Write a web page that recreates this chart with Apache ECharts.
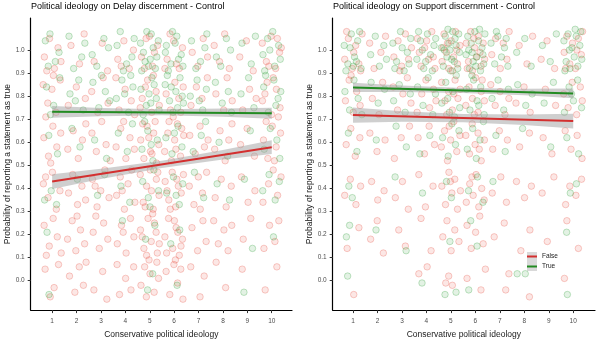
<!DOCTYPE html>
<html><head><meta charset="utf-8">
<script src="https://cdn.jsdelivr.net/npm/echarts@6/dist/echarts.min.js"></script>
<style>html,body{margin:0;padding:0;background:#fff}#c{width:600px;height:344px}</style>
</head><body><div id="c"></div>
<script>
// ---------- tick labels ----------
const xTicks = [1,2,3,4,5,6,7,8,9,10];
const yTicks = [0,0.1,0.2,0.3,0.4,0.5,0.6,0.7,0.8,0.9,1.0];
const titles = ['Political ideology on Delay discernment - Control','Political ideology on Support discernment - Control'];
const xName = 'Conservative political ideology';
const yName = 'Probability of reporting a statement as true';
const groups = ['False','True'];

// ---------- jittered responses: Delay panel ----------
const delayTrue = [
[0.72,1.04],[1.13,0.95],[0.91,1.07],[1.28,0.99],[0.84,0.93],
[1.69,1.06],[2.21,0.97],[1.88,0.92],[2.34,1.03],
[2.64,0.98],[3.12,1.05],[2.83,0.93],[3.31,1.01],
[3.66,1.02],[4.05,0.94],[3.79,1.08],[4.27,0.97],[3.92,0.91],[4.36,1.05],
[4.62,1.03],[4.81,0.95],[5.06,1.07],[5.23,0.92],[4.74,0.99],[5.35,1.04],[4.95,0.93],[5.14,1.01],[4.67,0.91],[5.29,0.97],[4.88,1.08],[5.02,0.96],
[5.68,1.02],[5.87,0.94],[6.11,1.06],[6.29,0.98],[5.76,0.91],[6.04,1.03],[6.36,0.93],[5.93,1.08],[6.18,0.96],[5.64,0.99],
[6.71,1.04],[7.08,0.95],[7.26,1.01],[6.89,0.92],[7.34,1.07],
[7.73,0.97],[8.14,1.05],[7.91,0.93],[8.31,1.00],
[8.78,1.03],[9.16,0.94],[9.33,1.06],
[9.64,0.98],[9.83,1.05],[10.12,0.93],[10.28,1.02],[9.71,0.91],[10.04,1.08],[10.35,0.96],[9.92,1.00],
[0.77,0.84],[1.06,0.76],[1.31,0.88],[0.93,0.72],
[1.73,0.81],[2.09,0.87],[2.27,0.74],[1.95,0.78],
[2.67,0.86],[2.91,0.75],[3.18,0.82],[3.36,0.78],[3.02,0.89],
[3.63,0.79],[3.86,0.87],[4.13,0.73],[4.31,0.84],[3.97,0.81],[4.22,0.89],
[4.64,0.83],[4.86,0.76],[5.09,0.88],[5.27,0.79],[4.73,0.72],[5.18,0.85],[4.97,0.81],[5.38,0.74],[5.04,0.77],
[5.63,0.85],[5.81,0.78],[6.07,0.82],[6.24,0.88],[5.95,0.73],[6.33,0.80],[5.72,0.89],[6.14,0.75],[5.88,0.84],[6.38,0.77],
[6.66,0.80],[6.94,0.87],[7.17,0.74],[7.32,0.83],[7.03,0.78],
[7.69,0.86],[7.97,0.77],[8.22,0.82],[8.35,0.73],
[8.74,0.81],[9.05,0.88],[9.27,0.75],
[9.67,0.84],[9.86,0.73],[10.09,0.87],[10.26,0.79],[9.75,0.89],[10.17,0.76],[10.37,0.82],
[0.86,0.63],[1.22,0.55],[1.81,0.66],[2.14,0.58],[2.74,0.61],[3.23,0.53],
[3.71,0.64],[4.08,0.56],[4.29,0.68],
[4.68,0.57],[4.92,0.65],[5.13,0.52],[5.31,0.61],[4.79,0.69],[5.06,0.59],
[5.66,0.62],[5.91,0.55],[6.16,0.67],[6.32,0.58],[6.01,0.64],
[6.78,0.56],[7.11,0.63],[7.29,0.69],[7.84,0.60],[8.19,0.54],[9.12,0.65],
[9.69,0.57],[9.94,0.66],[10.21,0.61],[10.33,0.53],
[0.69,0.35],[0.96,0.39],[1.18,0.33],[2.03,0.44],[2.86,0.37],[3.15,0.46],
[3.82,0.41],[4.18,0.34],
[4.71,0.43],[4.94,0.36],[5.17,0.48],[5.36,0.39],[5.01,0.32],
[5.69,0.38],[5.97,0.45],[6.21,0.33],[6.35,0.42],[6.08,0.37],
[6.83,0.47],[7.21,0.36],[7.76,0.42],[8.27,0.35],[8.88,0.44],
[9.63,0.39],[9.89,0.46],[10.14,0.35],[10.31,0.43],
[0.79,0.21],[3.88,0.26],[4.83,0.18],[5.21,0.24],[5.86,0.16],[6.23,0.22],[9.21,0.14],[10.07,0.19],
[0.87,-0.06],[4.91,-0.04],[5.12,0.03],[6.12,-0.02],[8.86,-0.05]
];
const delayFalse = [
[0.68,0.97],[0.89,1.05],[1.09,0.92],[1.24,1.01],[1.36,0.95],[0.78,0.91],
[1.77,1.02],[2.12,0.94],[2.31,1.07],
[2.72,0.95],[3.05,1.03],[3.27,0.91],
[3.69,0.96],[3.94,1.04],[4.16,0.92],[4.33,1.00],[3.83,0.93],
[4.66,0.97],[4.85,1.05],[5.11,0.93],[5.32,1.02],[4.78,0.92],[5.19,0.99],[4.99,1.06],
[5.71,0.96],[5.98,1.04],[6.21,0.92],[6.34,1.01],[5.83,1.07],[6.09,0.94],[5.62,0.92],
[6.74,0.99],[6.97,0.93],[7.19,1.05],[7.37,0.97],
[7.64,1.02],[7.86,0.95],[8.07,1.07],[8.26,0.92],
[8.69,0.97],[8.96,1.04],[9.24,0.91],
[9.61,1.03],[9.78,0.95],[9.97,1.06],[10.16,0.92],[10.32,0.99],[9.88,0.93],[10.23,1.05],[10.39,1.01],
[0.63,0.85],[0.82,0.77],[0.99,0.83],[1.16,0.73],[1.33,0.87],[0.74,0.71],[1.05,0.89],
[1.66,0.76],[1.99,0.84],[2.36,0.79],
[2.62,0.82],[2.87,0.73],[3.09,0.88],[3.29,0.77],
[3.74,0.74],[3.99,0.83],[4.24,0.78],[4.38,0.72],[3.61,0.88],
[4.69,0.79],[4.91,0.87],[5.08,0.73],[5.26,0.82],[5.39,0.76],[4.82,0.84],[5.15,0.89],[4.61,0.75],
[5.67,0.81],[5.85,0.74],[6.03,0.86],[6.19,0.79],[6.37,0.84],[5.96,0.71],[6.27,0.73],
[6.69,0.76],[6.91,0.84],[7.14,0.79],[7.36,0.88],
[7.71,0.81],[8.03,0.74],[8.17,0.88],[8.38,0.78],
[8.81,0.74],[9.09,0.83],[9.36,0.79],
[9.62,0.78],[9.81,0.86],[9.99,0.72],[10.19,0.83],[10.34,0.75],[9.72,0.81],[10.06,0.88],[10.27,0.71],
[0.66,0.62],[0.85,0.54],[1.03,0.67],[1.19,0.58],[1.35,0.64],[0.94,0.51],
[1.64,0.57],[1.86,0.65],[2.07,0.53],[2.24,0.61],[2.38,0.68],
[2.63,0.64],[2.81,0.56],[3.03,0.69],[3.21,0.59],[3.38,0.52],
[3.62,0.58],[3.81,0.66],[4.02,0.53],[4.19,0.62],[4.37,0.57],[3.93,0.69],
[4.63,0.61],[4.76,0.53],[4.89,0.67],[5.03,0.56],[5.16,0.64],[5.28,0.51],[5.37,0.59],[4.71,0.68],[4.96,0.62],[5.22,0.69],[5.09,0.55],
[5.61,0.56],[5.74,0.64],[5.89,0.52],[6.02,0.61],[6.13,0.68],[6.26,0.54],[6.39,0.63],[5.79,0.69],[6.07,0.57],[6.31,0.66],
[6.64,0.63],[6.86,0.55],[7.06,0.67],[7.24,0.58],[7.39,0.61],
[7.66,0.57],[7.88,0.65],[8.09,0.52],[8.24,0.61],[8.37,0.68],
[8.72,0.59],[8.99,0.66],[9.29,0.54],
[9.66,0.61],[9.84,0.53],[10.02,0.67],[10.18,0.58],[10.36,0.64],[9.77,0.69],[10.11,0.52],
[0.64,0.42],[0.83,0.36],[1.01,0.47],[1.17,0.31],[1.32,0.39],[0.73,0.45],
[1.67,0.38],[1.84,0.46],[2.04,0.33],[2.22,0.41],[2.37,0.35],
[2.65,0.44],[2.84,0.32],[2.99,0.39],[3.16,0.48],[3.33,0.36],[2.76,0.41],
[3.64,0.37],[3.79,0.45],[3.96,0.31],[4.11,0.42],[4.26,0.48],[4.39,0.34],[3.87,0.39],
[4.61,0.46],[4.73,0.34],[4.87,0.41],[5.02,0.48],[5.14,0.31],[5.27,0.44],[5.38,0.37],[4.81,0.32],[5.07,0.39],[5.33,0.47],
[5.63,0.43],[5.78,0.35],[5.92,0.47],[6.06,0.32],[6.17,0.41],[6.29,0.38],[6.38,0.46],[5.84,0.31],[6.11,0.44],[5.71,0.39],
[6.62,0.41],[6.81,0.33],[6.99,0.45],[7.16,0.38],[7.33,0.47],[7.07,0.31],
[7.68,0.36],[7.93,0.44],[8.13,0.32],[8.34,0.41],
[8.76,0.45],[9.03,0.34],[9.31,0.39],
[9.64,0.34],[9.87,0.42],[10.06,0.48],[10.24,0.37],[10.38,0.45],
[0.67,0.24],[0.88,0.15],[1.04,0.27],[1.21,0.19],[1.37,0.12],[0.76,0.11],
[1.63,0.18],[1.82,0.26],[1.97,0.13],[2.16,0.22],[2.33,0.16],[2.02,0.28],
[2.68,0.21],[2.93,0.14],[3.11,0.25],[3.28,0.18],[2.79,0.28],
[3.67,0.16],[3.84,0.24],[4.03,0.12],[4.21,0.27],[4.35,0.19],[3.91,0.21],
[4.62,0.22],[4.76,0.14],[4.93,0.27],[5.06,0.17],[5.19,0.25],[5.31,0.12],[4.69,0.19],[4.87,0.11],[5.12,0.29],[5.26,0.21],[5.39,0.16],
[5.62,0.19],[5.77,0.27],[5.94,0.14],[6.08,0.23],[6.21,0.11],[6.34,0.18],[5.69,0.12],[6.01,0.26],[6.15,0.21],[6.28,0.15],
[6.73,0.23],[6.96,0.13],[7.18,0.26],[7.31,0.17],
[7.62,0.26],[7.81,0.16],[8.04,0.22],[8.21,0.13],[8.36,0.24],
[8.83,0.18],[9.14,0.27],
[9.68,0.14],[9.91,0.24],[10.13,0.17],[10.29,0.26],
[0.71,0.05],[1.08,-0.03],[1.26,0.07],[0.92,-0.07],
[1.71,0.02],[1.93,-0.05],[2.11,0.06],[2.28,-0.02],[2.39,0.08],
[2.71,-0.04],[3.07,0.04],[3.24,-0.08],
[3.66,0.07],[3.76,-0.06],[4.01,0.01],[4.23,-0.04],[4.34,0.06],
[4.64,-0.02],[4.79,0.06],[4.86,-0.07],[5.01,0.03],[5.18,-0.05],[5.29,0.08],[5.36,0.01],[4.97,0.09],
[5.67,0.04],[5.82,-0.06],[5.99,0.07],[6.14,-0.01],[6.27,0.05],[6.36,-0.08],[6.05,0.09],
[6.68,0.06],[7.06,-0.07],[7.23,0.02],
[7.72,0.08],[8.11,-0.03],[8.79,0.05],
[9.73,-0.04],[10.21,0.06]
];

// ---------- jittered responses: Support panel ----------
const supportTrue = [
[0.64,1.02],[0.79,0.94],[0.93,1.07],[1.06,0.97],[1.19,1.04],[1.33,0.92],[0.71,0.91],[0.88,1.01],[1.14,0.95],[1.27,1.08],[1.01,0.93],
[1.72,0.98],[1.91,1.06],[2.08,0.93],[2.26,1.02],[2.37,0.96],
[2.63,1.03],[2.78,0.95],[2.94,1.08],[3.09,0.91],[3.22,0.99],[3.36,1.05],[2.71,0.92],[3.01,1.01],[3.29,0.94],
[3.61,0.96],[3.76,1.04],[3.89,0.92],[4.04,1.07],[4.17,0.98],[4.31,1.02],[3.68,1.08],[3.97,0.95],[4.24,0.91],[4.38,1.05],[3.83,1.00],
[4.61,1.01],[4.69,0.93],[4.77,1.06],[4.84,0.97],[4.92,1.03],[4.99,0.91],[5.07,1.08],[5.14,0.95],[5.21,1.02],[5.28,0.92],[5.35,0.99],[4.73,1.00],[4.88,1.09],[5.03,0.96],[5.17,1.05],[5.32,1.07],[4.96,1.00],
[5.62,0.98],[5.69,1.06],[5.76,0.92],[5.83,1.03],[5.91,0.95],[5.98,1.08],[6.06,0.97],[6.13,1.04],[6.21,0.91],[6.27,1.01],[6.34,0.94],[6.39,1.07],[5.73,1.00],[5.87,0.99],[6.02,0.93],[6.17,1.09],[6.31,0.98],
[6.64,1.03],[6.79,0.94],[6.92,1.06],[7.07,0.97],[7.19,1.01],[7.33,0.93],[6.86,1.08],[7.26,1.05],
[7.69,0.99],[8.02,1.05],[8.28,0.93],
[8.74,1.02],[9.06,0.95],[9.31,1.07],
[9.62,1.04],[9.71,0.95],[9.79,1.07],[9.87,0.92],[9.95,1.01],[10.04,0.97],[10.12,1.06],[10.19,0.93],[10.27,1.02],[10.35,0.96],[9.66,0.91],[10.08,1.09],[10.31,1.08],[9.84,1.00],
[0.67,0.82],[0.86,0.74],[1.04,0.87],[1.21,0.79],[1.36,0.72],
[1.74,0.86],[2.03,0.77],[2.29,0.83],
[2.66,0.78],[2.89,0.85],[3.13,0.73],[3.34,0.81],
[3.64,0.84],[3.86,0.76],[4.07,0.88],[4.26,0.72],[4.37,0.81],
[4.63,0.77],[4.79,0.86],[4.94,0.73],[5.08,0.82],[5.22,0.89],[5.36,0.75],[4.87,0.79],[5.15,0.71],
[5.64,0.83],[5.78,0.74],[5.93,0.87],[6.07,0.78],[6.22,0.84],[6.36,0.72],[5.86,0.89],[6.14,0.76],
[6.68,0.79],[6.93,0.87],[7.16,0.74],[7.35,0.83],
[7.73,0.85],[8.06,0.76],[8.32,0.81],
[8.81,0.77],[9.19,0.86],
[9.64,0.73],[9.83,0.84],[10.01,0.78],[10.18,0.87],[10.34,0.75],[9.93,0.81],
[0.81,0.64],[1.16,0.56],[1.95,0.61],[2.76,0.67],[3.18,0.58],[3.73,0.55],[4.14,0.63],
[4.66,0.62],[4.89,0.54],[5.04,0.68],[5.19,0.59],[5.33,0.65],
[5.67,0.57],[5.89,0.66],[6.04,0.53],[6.19,0.61],[6.33,0.69],
[6.84,0.63],[7.22,0.56],[7.93,0.66],[9.08,0.58],[9.74,0.62],[10.22,0.55],
[0.83,0.41],[0.97,0.36],[2.72,0.45],[3.84,0.38],[4.82,0.43],[5.02,0.36],[5.72,0.39],[6.09,0.45],[6.31,0.34],[6.72,0.43],[9.88,0.38],[10.13,0.42],
[0.73,0.19],[0.86,0.24],[1.94,0.22],[3.17,0.13],[4.96,0.17],[5.81,0.26],[6.07,0.15],[9.73,0.21],
[0.78,0.02],[3.82,-0.01],[4.76,-0.06],[5.21,-0.05],[5.73,-0.04],[7.71,0.03],[8.04,0.03],[9.76,-0.06]
];
const supportFalse = [
[0.66,0.96],[0.81,1.05],[0.97,0.92],[1.11,1.02],[1.24,0.94],[1.37,1.07],[0.74,1.08],[1.03,0.99],[1.31,0.91],
[1.68,1.03],[1.86,0.92],[2.14,0.99],[2.33,1.06],
[2.67,0.97],[2.84,1.04],[2.99,0.93],[3.14,1.07],[3.27,0.96],[3.39,1.01],[2.91,0.91],
[3.63,1.05],[3.78,0.93],[3.93,1.01],[4.09,0.96],[4.22,1.08],[4.35,0.92],[3.71,0.99],[4.01,1.04],[4.28,0.97],
[4.64,0.95],[4.72,1.07],[4.81,0.99],[4.91,0.92],[5.01,1.04],[5.11,0.97],[5.19,1.08],[5.27,0.94],[5.37,1.02],[4.86,1.03],[5.06,0.91],[5.24,1.00],[4.68,1.01],
[5.63,1.03],[5.72,0.95],[5.81,1.08],[5.88,0.91],[5.97,1.01],[6.04,0.97],[6.12,1.06],[6.23,0.93],[6.32,1.03],[6.38,0.96],[5.94,1.05],[6.19,0.99],[5.67,0.92],
[6.67,0.98],[6.83,1.05],[7.02,0.92],[7.14,1.03],[7.29,0.96],[7.38,1.08],
[7.79,1.02],[8.11,0.94],[8.34,1.06],
[8.69,0.96],[8.93,1.04],[9.24,0.92],
[9.63,0.99],[9.74,1.06],[9.86,0.94],[9.97,1.03],[10.09,0.92],[10.21,1.05],[10.33,0.98],[10.38,1.08],[9.69,0.92],[10.15,1.00],
[0.69,0.78],[0.84,0.87],[1.01,0.73],[1.15,0.82],[1.29,0.76],[0.92,0.89],
[1.79,0.79],[2.06,0.72],[2.21,0.86],
[2.64,0.84],[2.82,0.74],[3.04,0.81],[3.22,0.88],[3.37,0.77],
[3.62,0.73],[3.81,0.81],[3.98,0.87],[4.13,0.75],[4.29,0.83],[4.39,0.78],
[4.62,0.86],[4.76,0.78],[4.91,0.82],[5.06,0.74],[5.17,0.87],[5.29,0.79],[5.38,0.83],[4.83,0.72],[5.12,0.81],
[5.61,0.76],[5.74,0.84],[5.88,0.79],[6.01,0.88],[6.11,0.73],[6.24,0.82],[6.37,0.78],[5.96,0.72],[6.28,0.87],
[6.63,0.85],[6.81,0.76],[7.01,0.82],[7.21,0.72],[7.37,0.79],
[7.66,0.77],[7.99,0.84],[8.24,0.73],
[8.86,0.83],[9.28,0.76],
[9.61,0.81],[9.79,0.75],[9.96,0.86],[10.14,0.72],[10.29,0.84],[10.37,0.78],
[0.72,0.59],[0.91,0.66],[1.09,0.54],[1.28,0.62],
[1.69,0.64],[1.98,0.56],[2.31,0.61],
[2.69,0.53],[2.97,0.62],[3.31,0.67],
[3.66,0.62],[3.92,0.55],[4.11,0.67],[4.33,0.59],
[4.61,0.58],[4.74,0.65],[4.86,0.52],[4.99,0.61],[5.12,0.69],[5.24,0.56],[5.37,0.63],[4.93,0.67],
[5.61,0.63],[5.76,0.55],[5.87,0.68],[5.99,0.59],[6.11,0.64],[6.24,0.52],[6.37,0.61],[6.16,0.57],
[6.71,0.57],[6.98,0.65],[7.31,0.61],
[7.81,0.58],[8.21,0.64],
[8.77,0.62],[9.13,0.55],
[9.67,0.65],[9.91,0.57],[10.16,0.63],[10.36,0.53],
[0.66,0.37],[0.89,0.44],[1.12,0.33],[1.31,0.41],
[1.76,0.43],[2.01,0.35],[2.27,0.39],
[2.73,0.36],[3.02,0.43],[3.26,0.31],
[3.69,0.46],[3.96,0.32],[4.27,0.41],
[4.63,0.41],[4.78,0.33],[4.92,0.47],[5.04,0.38],[5.16,0.44],[5.27,0.31],[5.39,0.39],[4.98,0.43],
[5.63,0.34],[5.77,0.42],[5.91,0.37],[6.03,0.46],[6.14,0.32],[6.26,0.40],[6.36,0.35],[5.86,0.45],
[6.69,0.38],[7.04,0.45],[7.27,0.34],
[7.68,0.43],[8.01,0.36],[8.29,0.41],
[8.73,0.38],[9.21,0.45],
[9.69,0.33],[9.86,0.41],[10.11,0.37],[10.34,0.44],
[0.76,0.14],[1.24,0.23],
[1.72,0.18],[1.99,0.26],[2.24,0.12],
[2.87,0.22],[3.14,0.15],
[3.78,0.27],[4.19,0.13],
[4.67,0.19],[4.84,0.26],[5.01,0.13],[5.16,0.22],[5.33,0.17],
[5.66,0.24],[5.83,0.14],[6.01,0.21],[6.18,0.28],[6.32,0.16],
[6.77,0.19],[7.18,0.25],
[7.86,0.13],[8.23,0.22],
[8.94,0.17],
[9.74,0.26],[10.21,0.14],
[1.03,-0.06],[3.69,0.03],[4.03,0.06],[4.79,-0.01],[4.91,0.02],[5.06,-0.02],[5.66,0.01],[6.23,-0.04],[6.41,0.05],[7.24,-0.04],[7.37,0.03],[8.21,-0.07],[9.64,0.01]
];

// ---------- fitted lines and confidence bands ----------
const delayFalseFit   = [[1,0.430],[10,0.579]];
const delayFalseUpper = [[1,0.462],[3,0.485],[5.5,0.520],[8,0.567],[10,0.609]];
const delayFalseLower = [[1,0.398],[3,0.441],[5.5,0.489],[8,0.525],[10,0.549]];
const delayTrueFit    = [[1,0.732],[10,0.726]];
const delayTrueUpper  = [[1,0.757],[3,0.749],[5.5,0.743],[8,0.747],[10,0.750]];
const delayTrueLower  = [[1,0.707],[3,0.713],[5.5,0.717],[8,0.711],[10,0.702]];
const supportFalseFit   = [[1,0.718],[10,0.692]];
const supportFalseUpper = [[1,0.751],[3,0.735],[5.5,0.723],[8,0.721],[10,0.724]];
const supportFalseLower = [[1,0.685],[3,0.689],[5.5,0.687],[8,0.675],[10,0.660]];
const supportTrueFit    = [[1,0.838],[10,0.812]];
const supportTrueUpper  = [[1,0.858],[3,0.846],[5.5,0.836],[8,0.832],[10,0.833]];
const supportTrueLower  = [[1,0.818],[3,0.818],[5.5,0.814],[8,0.804],[10,0.791]];

// ---------- styling ----------
const FONT = 'Liberation Sans, Arial, sans-serif';
const RED = '#D32F2F', GREEN = '#228B22';
const PT = {
  False: {color:'rgba(232,90,75,0.18)', borderColor:'rgba(232,90,75,0.42)', borderWidth:0.9},
  True:  {color:'rgba(60,165,70,0.18)', borderColor:'rgba(60,165,70,0.42)', borderWidth:0.9}
};

function scatter(data, g, i){
  return {type:'scatter', name:g+' pts', xAxisIndex:i, yAxisIndex:i, data:data,
    symbol:'circle', symbolSize:6.5, itemStyle:PT[g], silent:true, z:1};
}
function band(up, lo, i){
  return {type:'custom', xAxisIndex:i, yAxisIndex:i, data:up, silent:true, z:2,
    renderItem:function(params, api){
      if (params.dataIndex !== 0) return null;
      const pts = up.map(p=>api.coord(p)).concat(lo.slice().reverse().map(p=>api.coord(p)));
      return {type:'polygon', shape:{points:pts}, style:{fill:'rgba(160,160,160,0.5)'}};
    }};
}
function fit(data, g, i){
  return {type:'line', name:g, xAxisIndex:i, yAxisIndex:i, data:data, showSymbol:false,
    lineStyle:{color:g==='False'?RED:GREEN, width:2}, itemStyle:{color:g==='False'?RED:GREEN}, z:3, silent:true};
}
function xAxis(i, min, max){
  return {type:'value', gridIndex:i, min:min, max:max,
    name:xName, nameLocation:'middle', nameGap:17, nameTextStyle:{fontSize:8.5, color:'#1a1a1a', fontFamily:FONT},
    axisLine:{show:true, onZero:false, lineStyle:{color:'#000', width:1.2}},
    axisTick:{show:true, length:3, lineStyle:{color:'#333'}, customValues:xTicks},
    axisLabel:{fontSize:6.5, color:'#4d4d4d', margin:8, fontFamily:FONT, customValues:xTicks, formatter:v=>String(v)},
    splitLine:{show:false}};
}
function yAxis(i){
  return {type:'value', gridIndex:i, min:-0.1275, max:1.139,
    name:yName, nameLocation:'middle', nameGap:19, nameTextStyle:{fontSize:8.5, color:'#1a1a1a', fontFamily:FONT},
    axisLine:{show:true, onZero:false, lineStyle:{color:'#000', width:1.2}},
    axisTick:{show:true, length:3, lineStyle:{color:'#333'}, customValues:yTicks},
    axisLabel:{fontSize:6.5, color:'#4d4d4d', margin:6, fontFamily:FONT, customValues:yTicks, formatter:v=>v.toFixed(1)},
    splitLine:{show:false}};
}

const chart = echarts.init(document.getElementById('c'), null, {renderer:'canvas'});
chart.setOption({
  animation:false,
  backgroundColor:'#fff',
  textStyle:{fontFamily:FONT},
  title:[
    {text:titles[0], left:31, top:2, padding:0, textStyle:{fontSize:9, fontWeight:'normal', color:'#000', fontFamily:FONT}},
    {text:titles[1], left:333, top:2, padding:0, textStyle:{fontSize:9, fontWeight:'normal', color:'#000', fontFamily:FONT}}
  ],
  grid:[
    {left:30.7, top:18, width:261.3, height:298},
    {left:332.7, top:18, width:262.3, height:298}
  ],
  xAxis:[xAxis(0, 0.12, 10.83), xAxis(1, 0.17, 10.89)],
  yAxis:[yAxis(0), yAxis(1)],
  legend:{data:groups, orient:'vertical', left:527, top:252, padding:0, itemWidth:10, itemHeight:2, itemGap:1, icon:'rect',
    textStyle:{fontSize:6.5, color:'#1a1a1a', fontFamily:FONT, lineHeight:9}, selectedMode:false},
  graphic:[{type:'rect', left:527, top:252, shape:{width:10, height:19}, style:{fill:'#d9d9d9'}, z:-1, silent:true}],
  series:[
    scatter(delayFalse,'False',0), scatter(delayTrue,'True',0),
    scatter(supportFalse,'False',1), scatter(supportTrue,'True',1),
    band(delayFalseUpper, delayFalseLower, 0), band(delayTrueUpper, delayTrueLower, 0),
    band(supportFalseUpper, supportFalseLower, 1), band(supportTrueUpper, supportTrueLower, 1),
    fit(delayFalseFit,'False',0), fit(delayTrueFit,'True',0),
    fit(supportFalseFit,'False',1), fit(supportTrueFit,'True',1)
  ]
});
</script></body></html>
